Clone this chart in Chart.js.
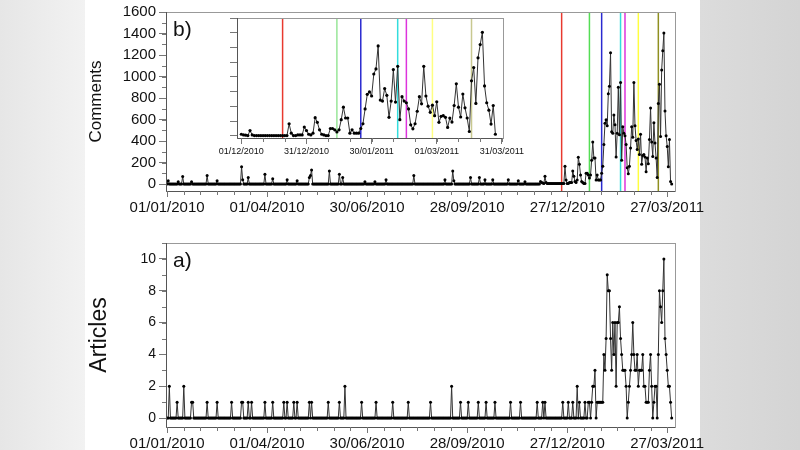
<!DOCTYPE html>
<html><head><meta charset="utf-8">
<script src="https://cdn.jsdelivr.net/npm/chart.js@4"></script>
<style>
body{margin:0;width:800px;height:450px;overflow:hidden;background:linear-gradient(90deg,#e6e6e6 0,#f2f2f2 85px,#fff 85px,#fff 700px,#dcdcdc 700px,#d4d4d4 800px);font-family:"Liberation Sans",Arial,sans-serif;position:relative}
canvas{position:absolute}
</style></head><body>
<canvas id="top" style="left:0;top:0" width="800" height="225"></canvas>
<canvas id="inset" style="top:0;left:150px" width="400" height="170"></canvas>
<canvas id="bot" style="left:0;top:225px" width="800" height="225"></canvas>
<script>
// ---- data (day index from 01/01/2010) ----
const mainTickDays=[0,90,180,270,360,450];
const mainTickLabels=["01/01/2010","01/04/2010","30/06/2010","28/09/2010","27/12/2010","27/03/2011"];
const insetTickDays=[336,366,396,426,456];
const insetTickLabels=["01/12/2010","31/12/2010","30/01/2011","01/03/2011","31/03/2011"];
const eventDays=[355,380,391,408,412,424,442];
const eventColorsMain=["#e8392f","#55dd55","#2a2ad0","#33dddd","#dd33dd","#ffff40","#8f8f20"];
const eventColorsInset=["#e8392f","#99e699","#2a2ad0","#33dddd","#dd33dd","#ffff80","#c8c890"];
// comments 2010: [day, value]
const commentSpikes2010=[[1,30],[10,20],[14,70],[22,20],[36,80],[45,30],[67,160],[68,40],[73,60],[88,90],[95,50],[108,40],[117,30],[128,60],[129,80],[130,130],[146,120],[155,90],[158,60],[178,20],[187,20],[197,40],[222,80],[250,40],[257,120],[258,30],[273,60],[281,60],[286,40],[293,40],[307,40],[316,30],[322,20]];
const commentsStartDay=336;
const commentsDecMar=[23,14,10,5,73,14,5,5,5,5,5,5,5,5,5,5,5,5,5,5,5,5,165,37,5,5,14,14,14,120,73,23,14,37,248,184,83,23,14,5,5,101,101,83,55,83,220,390,243,243,37,83,37,37,37,101,165,367,565,597,542,840,909,1221,487,473,643,551,252,473,900,459,945,220,532,473,450,367,151,96,165,335,532,436,945,542,404,321,418,275,464,184,266,275,252,115,243,188,413,707,390,257,569,381,243,60,748,927,441,1060,1239,1405,679,450,349,161,413,23];
// articles: quiet period [day,value], then daily from day 380
const articleSpikes=[[2,2],[9,1],[15,2],[22,1],[23,1],[36,1],[45,1],[58,1],[67,1],[68,1],[73,1],[76,1],[88,1],[95,1],[105,1],[108,1],[114,1],[117,1],[128,1],[130,1],[145,1],[155,1],[160,2],[175,1],[188,1],[203,1],[217,1],[237,1],[256,2],[264,1],[271,1],[280,1],[287,1],[295,1],[309,1],[318,1],[333,1],[338,1],[340,1],[356,1],[361,1],[365,1],[369,2],[371,1],[376,1],[379,1]];
const articlesStartDay=380;
const articlesDaily=[1,0,1,2,2,3,0,1,1,1,1,1,1,4,3,5,9,8,8,5,3,6,4,6,2,6,6,7,5,4,3,3,3,2,0,1,2,3,4,6,4,3,3,4,2,3,3,3,4,2,2,1,1,1,3,4,2,0,1,2,2,0,4,8,7,6,8,10,5,4,3,2,2,1,0];
const lastDay=454;

// ---- build series ----
function build(spikes,start,daily){const a=[];for(let d=0;d<=lastDay;d++)a.push(0);
 spikes.forEach(([d,v])=>{if(d<start)a[d]=v;});daily.forEach((v,i)=>{if(start+i<=lastDay)a[start+i]=v;});
 return a.map((v,d)=>({x:d,y:v}));}
const comments=build(commentSpikes2010,commentsStartDay,commentsDecMar);
const articles=build(articleSpikes,articlesStartDay,articlesDaily);
const insetPts=commentsDecMar.map((v,i)=>({x:commentsStartDay+i,y:v}));

const FONT='"Liberation Sans", Arial, sans-serif';
function frame(id,cols,minorX,x0,minorY,label,labFont){return{id,
 beforeDatasetsDraw(c){const{ctx,chartArea:a,scales:{x,y}}=c;ctx.save();
  if(cols){eventDays.forEach((d,i)=>{const px=x.getPixelForValue(d);ctx.strokeStyle=cols[i];ctx.lineWidth=1.5;ctx.beginPath();ctx.moveTo(px,a.top);ctx.lineTo(px,a.bottom);ctx.stroke();});}
  ctx.restore();},
 afterDraw(c){const{ctx,chartArea:a,scales:{x,y}}=c;ctx.save();
  ctx.strokeStyle='#999';ctx.lineWidth=1;ctx.strokeRect(a.left+0.5,a.top+0.5,a.right-a.left,a.bottom-a.top);
  ctx.strokeStyle='#555';ctx.beginPath();ctx.moveTo(a.left+0.5,a.top);ctx.lineTo(a.left+0.5,a.bottom+0.5);ctx.lineTo(a.right,a.bottom+0.5);ctx.stroke();
  ctx.strokeStyle='#777';ctx.beginPath();
  if(minorX){for(let d=x0;d<=x.max;d+=minorX){const px=Math.round(x.getPixelForValue(d))+0.5;ctx.moveTo(px,a.bottom);ctx.lineTo(px,a.bottom+4);}}
  if(minorY){for(let v=0;v<=y.max+1e-6;v+=minorY){const py=Math.round(y.getPixelForValue(v))+0.5;ctx.moveTo(a.left,py);ctx.lineTo(a.left-4,py);}}
  ctx.stroke();
  if(label){ctx.fillStyle='#111';ctx.font=labFont;ctx.textBaseline='top';ctx.fillText(label,a.left+7,a.top+8);}
  ctx.restore();}};}

function ds(data,r){return{data,borderColor:'#333',borderWidth:1,pointRadius:r,pointBackgroundColor:'#000',pointBorderWidth:0,tension:0};}
function xAxis(min,max,days,labels,size,h){return{type:'linear',min,max,afterBuildTicks:s=>{s.ticks=days.map(v=>({value:v}));},
 afterFit:s=>{s.height=h;},grid:{display:true,drawOnChartArea:false,tickLength:6,color:'#777'},border:{display:false},
 ticks:{color:'#111',font:{family:FONT,size},padding:2,maxRotation:0,autoSkip:false,callback:v=>labels[days.indexOf(v)]}};}
function yAxis(min,max,vals,size,w,title,tsize,showLabels){return{min,max,afterBuildTicks:s=>{s.ticks=vals.map(v=>({value:v}));},
 afterFit:s=>{s.width=w;},grid:{display:true,drawOnChartArea:false,tickLength:7,color:'#777'},border:{display:false},
 title:{display:!!title,text:title,color:'#111',font:{family:FONT,size:tsize},padding:0},
 ticks:{display:showLabels,color:'#111',font:{family:FONT,size},padding:3,callback:v=>String(v)}};}
const base={responsive:false,animation:false,plugins:{legend:{display:false},tooltip:{enabled:false}}};

new Chart(document.getElementById('top'),{type:'line',data:{datasets:[ds(comments,1.5)]},
 options:{...base,layout:{padding:{left:86,right:125,top:6,bottom:0}},
  scales:{x:xAxis(-1,457,mainTickDays,mainTickLabels,15,34),y:yAxis(-65,1600,[0,200,400,600,800,1000,1200,1400,1600],15,80,'Comments',17,true)}},
 plugins:[frame('f1',eventColorsMain,15,0,100,'b)','21px '+FONT)]});

new Chart(document.getElementById('inset'),{type:'line',data:{datasets:[ds(insetPts,1.6)]},
 options:{...base,layout:{padding:{left:77,right:47,top:18,bottom:12}},
  scales:{x:xAxis(334,456.5,insetTickDays,insetTickLabels,9,20),y:yAxis(-28,1600,[0,200,400,600,800,1000,1200,1400,1600],9,10,'',9,false)}},
 plugins:[{id:'bg',beforeDraw(c){const{ctx,chartArea:a}=c;ctx.fillStyle='#fff';ctx.fillRect(a.left,a.top,a.right-a.left,a.bottom-a.top);}},frame('f2',eventColorsInset,10,336,null,'','')]});

new Chart(document.getElementById('bot'),{type:'line',data:{datasets:[ds(articles,1.5)]},
 options:{...base,layout:{padding:{left:86,right:125,top:18,bottom:0}},
  scales:{x:xAxis(-1,457,mainTickDays,mainTickLabels,15,23),y:yAxis(-0.56,11,[0,2,4,6,8,10],14,80,'Articles',23,true)}},
 plugins:[frame('f3',null,15,0,1,'a)','21px '+FONT)]});
</script></body></html>
